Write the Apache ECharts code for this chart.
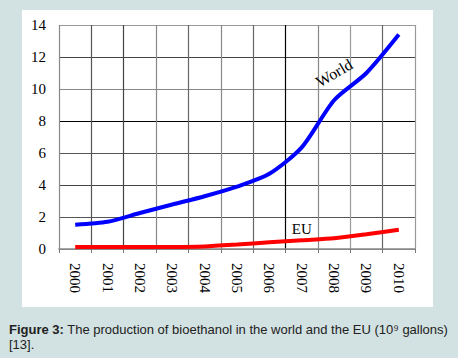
<!DOCTYPE html>
<html>
<head>
<meta charset="utf-8">
<style>
  html, body { margin: 0; padding: 0; background: #d2e1e1; }
  #chart { width: 458px; height: 358px; }
</style>
<script src="https://cdn.jsdelivr.net/npm/echarts@6/dist/echarts.min.js"></script>
</head>
<body>
<div id="chart"></div>
<script>
const years = ['2000','2001','2002','2003','2004','2005','2006','2007','2008','2009','2010'];
const world = [1.52, 1.7, 2.25, 2.78, 3.3, 3.9, 4.7, 6.35, 9.3, 11.0, 13.4];
const eu = [0.13, 0.13, 0.13, 0.13, 0.16, 0.28, 0.42, 0.55, 0.67, 0.92, 1.2];
const yTicks = [0, 2, 4, 6, 8, 10, 12, 14];
const caption = 'The production of bioethanol in the world and the EU (10⁹ gallons)';

const chart = echarts.init(document.getElementById('chart'), null, { renderer: 'svg' });
const serif = '"Liberation Serif", "DejaVu Serif", serif';
const sans = '"Liberation Sans", Arial, sans-serif';

chart.setOption({
  backgroundColor: '#d2e1e1',
  animation: false,
  grid: { left: 59, top: 25, right: 43, bottom: 109, containLabel: false },
  xAxis: {
    type: 'category',
    data: years,
    boundaryGap: true,
    axisLine: { show: true, lineStyle: { color: '#888', width: 1.5 } },
    axisTick: { show: true, length: 4, lineStyle: { color: '#777' } },
    axisLabel: { rotate: -90, margin: 14, fontSize: 15, fontFamily: serif, color: '#000' },
    splitLine: {
      show: true,
      lineStyle: { color: ['#888', '#555', '#444', '#888', '#666', '#888', '#666', '#000', '#888', '#999', '#666', '#999'], width: 1.2 }
    }
  },
  yAxis: {
    type: 'value',
    min: 0, max: 14, interval: 2,
    axisLine: { show: false },
    axisTick: { show: false },
    axisLabel: {
      margin: 13, fontSize: 15, fontFamily: serif, color: '#000',
      formatter: v => yTicks.includes(v) ? String(v) : ''
    },
    splitLine: {
      show: true,
      lineStyle: { color: ['#888', '#555', '#444', '#555', '#000', '#888', '#444', '#999'], width: 1.2 }
    }
  },
  series: [
    {
      name: 'World', type: 'line', data: world, smooth: 0.25, symbol: 'none',
      lineStyle: { color: '#0000ff', width: 4 }, z: 5
    },
    {
      name: 'EU', type: 'line', data: eu, smooth: 0.25, symbol: 'none',
      lineStyle: { color: '#ff0000', width: 4 }, z: 5
    }
  ]
});

// series annotations, placed via the library's coordinate conversion
const wp = chart.convertToPixel({ gridIndex: 0 }, [8.45, 11.0]);
const ep = chart.convertToPixel({ gridIndex: 0 }, [7.0, 1.25]);
chart.setOption({
  graphic: [
    { type: 'rect', z: -10, shape: { x: 22, y: 10, width: 411, height: 297 }, style: { fill: '#ffffff' } },
    {
      type: 'text', left: 9, top: 322,
      style: {
        text: '{b|Figure 3:} ' + caption + '\n[13].',
        font: '13px ' + sans, fill: '#222', lineHeight: 15,
        rich: { b: { fontWeight: 'bold', fontSize: 13, fontFamily: sans, fill: '#222' } }
      }
    },
    {
      type: 'text', x: wp[0], y: wp[1], rotation: Math.PI / 6, z: 10,
      style: { text: 'World', font: '16px ' + serif, fill: '#000', align: 'center', verticalAlign: 'middle' }
    },
    {
      type: 'text', x: ep[0], y: ep[1], z: 10,
      style: { text: 'EU', font: '15px ' + serif, fill: '#000', align: 'center', verticalAlign: 'middle' }
    }
  ]
}, { replaceMerge: ['graphic'] });
</script>
</body>
</html>
